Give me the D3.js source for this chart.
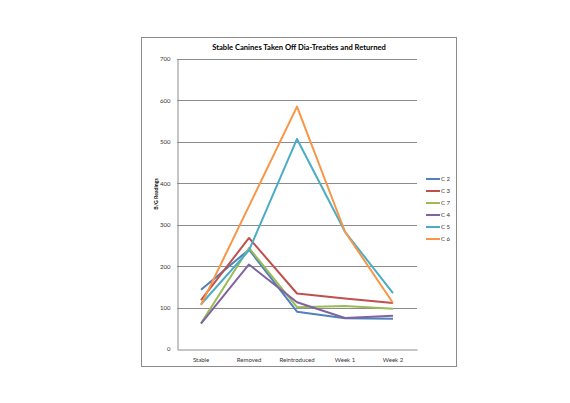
<!DOCTYPE html>
<html>
<head>
<meta charset="utf-8">
<script src="https://cdn.jsdelivr.net/npm/d3@7"></script>
<style>
  body { margin: 0; background: #fff; }
  text { font-family: Lato, "Open Sans", sans-serif; }
</style>
</head>
<body>
<div id="chart"></div>
<script>
const categories = ["Stable", "Removed", "Reintroduced", "Week 1", "Week 2"];
const seriesNames = ["C 2", "C 3", "C 7", "C 4", "C 5", "C 6"];
const c2 = [143, 240, 90, 74, 73];
const c3 = [118, 268, 134, 122, 111];
const c7 = [62, 244, 101, 104, 97];
const c4 = [61, 204, 113, 75, 80];
const c5 = [108, 238, 507, 283, 135];
const c6 = [106, 345, 585, 283, 111];
const yTicks = [0, 100, 200, 300, 400, 500, 600, 700];

const colors = ["#4F81BD", "#C0504D", "#9BBB59", "#8064A2", "#4BACC6", "#F79646"];
const allSeries = [c2, c3, c7, c4, c5, c6];

const width = 570, height = 403;
const plot = {left: 177, right: 417, top: 59, bottom: 349};

const svg = d3.select('#chart').append('svg')
    .attr('width', width)
    .attr('height', height);

svg.append('rect')
    .attr('x', 141.5).attr('y', 37.5)
    .attr('width', 315).attr('height', 329)
    .attr('fill', '#fff')
    .attr('stroke', '#8c8c8c')
    .attr('stroke-width', 1);

const x = d3.scaleBand()
    .domain(categories)
    .range([plot.left, plot.right]);

const y = d3.scaleLinear()
    .domain([0, 700])
    .range([plot.bottom, plot.top]);

// gridlines
svg.append('g').selectAll('line')
    .data(yTicks.slice(1))
    .join('line')
    .attr('x1', plot.left).attr('x2', plot.right)
    .attr('y1', d => Math.round(y(d)) + 0.5)
    .attr('y2', d => Math.round(y(d)) + 0.5)
    .attr('stroke', '#8c8c8c')
    .attr('stroke-width', 1);

// y axis
const yAxis = svg.append('g')
    .attr('transform', `translate(${plot.left + 0.5},0)`)
    .call(d3.axisLeft(y).tickValues(yTicks).tickSize(0).tickPadding(7));
yAxis.select('.domain').attr('stroke', '#8c8c8c');
yAxis.selectAll('text').attr('font-size', 6).attr('fill', '#333');

// x axis
const xAxis = svg.append('g')
    .attr('transform', `translate(0,${plot.bottom + 0.5})`)
    .call(d3.axisBottom(x).tickSize(0).tickPadding(8));
xAxis.select('.domain').attr('stroke', '#8c8c8c');
xAxis.selectAll('text').attr('font-size', 6).attr('fill', '#333');

// lines
const line = d3.line()
    .x((d, i) => x(categories[i]) + x.bandwidth() / 2)
    .y(d => y(d));

svg.append('g').selectAll('path')
    .data(allSeries)
    .join('path')
    .attr('d', line)
    .attr('fill', 'none')
    .attr('stroke', (d, i) => colors[i])
    .attr('stroke-width', 2)
    .attr('stroke-linejoin', 'round');

// title
svg.append('text')
    .attr('x', 299).attr('y', 50)
    .attr('text-anchor', 'middle')
    .attr('font-size', 7.6)
    .attr('font-weight', 'bold')
    .attr('fill', '#000')
    .text('Stable Canines Taken Off Dia-Treaties and Returned');

// y title
svg.append('text')
    .attr('transform', 'translate(158,194) rotate(-90)')
    .attr('text-anchor', 'middle')
    .attr('font-size', 5.2)
    .attr('font-weight', 'bold')
    .attr('fill', '#000')
    .text('B/G Readings');

// legend
const legend = svg.append('g').selectAll('g')
    .data(seriesNames)
    .join('g')
    .attr('transform', (d, i) => `translate(426,${179 + i * 12})`);
legend.append('line')
    .attr('x1', 0).attr('x2', 14)
    .attr('stroke', (d, i) => colors[i])
    .attr('stroke-width', 2);
legend.append('text')
    .attr('x', 15).attr('y', 2)
    .attr('font-size', 6)
    .attr('fill', '#333')
    .text(d => d);
</script>
</body>
</html>
